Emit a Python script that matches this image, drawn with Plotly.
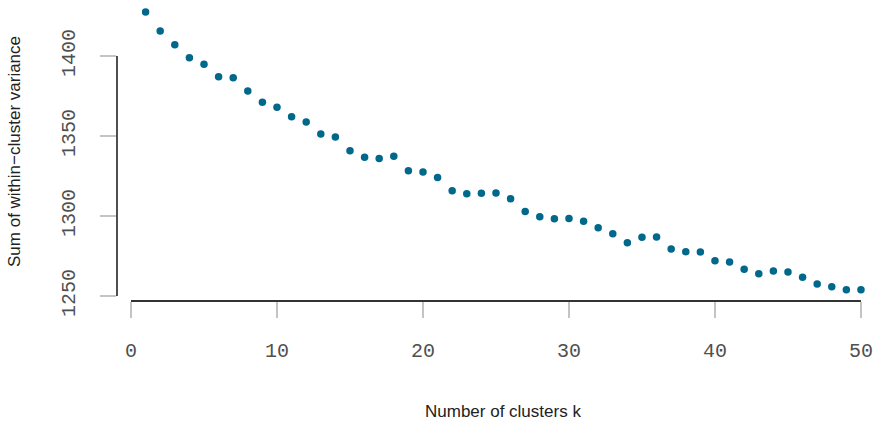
import plotly.graph_objects as go

# Elbow curve: total within-cluster sum of squares for k = 1..50
k_values = list(range(1, 51))
within_ss = [
    1427.5, 1415.6, 1407.1, 1398.9, 1394.8, 1387.1, 1386.4, 1378.1, 1371.1, 1367.9,
    1362.1, 1358.8, 1351.3, 1349.4, 1340.8, 1336.7, 1336.0, 1337.3, 1328.3, 1327.5,
    1324.0, 1315.8, 1313.9, 1314.2, 1314.4, 1310.8, 1302.9, 1299.6, 1298.3, 1298.5,
    1296.7, 1292.7, 1288.9, 1283.3, 1286.7, 1286.9, 1279.4, 1277.7, 1277.5, 1272.1,
    1271.3, 1266.7, 1264.0, 1265.6, 1265.0, 1261.7, 1257.5, 1255.8, 1253.9, 1253.9,
]
x_ticks = [0, 10, 20, 30, 40, 50]
y_ticks = [1250, 1300, 1350, 1400]
x_title = "Number of clusters k"
y_title = "Sum of within\u2212cluster variance"

W, H = 876, 422
M_L, M_R, M_T, M_B = 117, 0, 0, 121
plot_w = W - M_L - M_R
plot_h = H - M_T - M_B


def px_to_paper_x(px):
    return (px - M_L) / plot_w


def px_to_paper_y(py):
    return (H - M_B - py) / plot_h


point_color = "#00688B"
tick_color = "#c4c4c4"
axis_color = "#333333"
label_color = "#505050"

fig = go.Figure(
    go.Scatter(
        x=k_values,
        y=within_ss,
        mode="markers",
        marker=dict(color=point_color, size=7.5, line=dict(width=0)),
        showlegend=False,
        hoverinfo="x+y",
    )
)

mono = dict(family="Liberation Mono, DejaVu Sans Mono, monospace", size=20, color=label_color)
sans = dict(family="Liberation Sans, Arial, sans-serif", size=17, color="#222222")

fig.update_layout(
    width=W,
    height=H,
    margin=dict(l=M_L, r=M_R, t=M_T, b=M_B, pad=0),
    paper_bgcolor="white",
    plot_bgcolor="white",
    xaxis=dict(
        range=[-0.959, 51.03],
        tickvals=x_ticks,
        ticktext=[str(v) for v in x_ticks],
        ticks="outside",
        ticklen=16,
        tickwidth=1.5,
        tickcolor=tick_color,
        tickfont=mono,
        ticklabelstandoff=15,
        showgrid=False,
        zeroline=False,
        showline=False,
        fixedrange=True,
    ),
    yaxis=dict(
        range=[1246.9, 1435.0],
        tickvals=y_ticks,
        ticktext=[str(v) for v in y_ticks],
        ticks="outside",
        ticklen=16,
        tickwidth=1.5,
        tickcolor=tick_color,
        tickfont=mono,
        tickangle=-90,
        ticklabelstandoff=17,
        showgrid=False,
        zeroline=False,
        showline=False,
        fixedrange=True,
    ),
    shapes=[
        # left axis line spanning the tick range only
        dict(type="line", xref="paper", yref="y", x0=0, x1=0,
             y0=y_ticks[0], y1=y_ticks[-1], line=dict(color="#222222", width=1.6)),
        # bottom axis line spanning the tick range only
        dict(type="line", xref="x", yref="paper", x0=x_ticks[0], x1=x_ticks[-1],
             y0=0, y1=0, line=dict(color=axis_color, width=2)),
    ],
    annotations=[
        dict(text=x_title, xref="paper", yref="paper",
             x=px_to_paper_x(503), y=px_to_paper_y(411),
             xanchor="center", yanchor="middle", showarrow=False, font=sans),
        dict(text=y_title, xref="paper", yref="paper",
             x=px_to_paper_x(14), y=px_to_paper_y(151),
             xanchor="center", yanchor="middle", showarrow=False,
             textangle=-90, font=sans),
    ],
)

fig.write_html("out.html")
